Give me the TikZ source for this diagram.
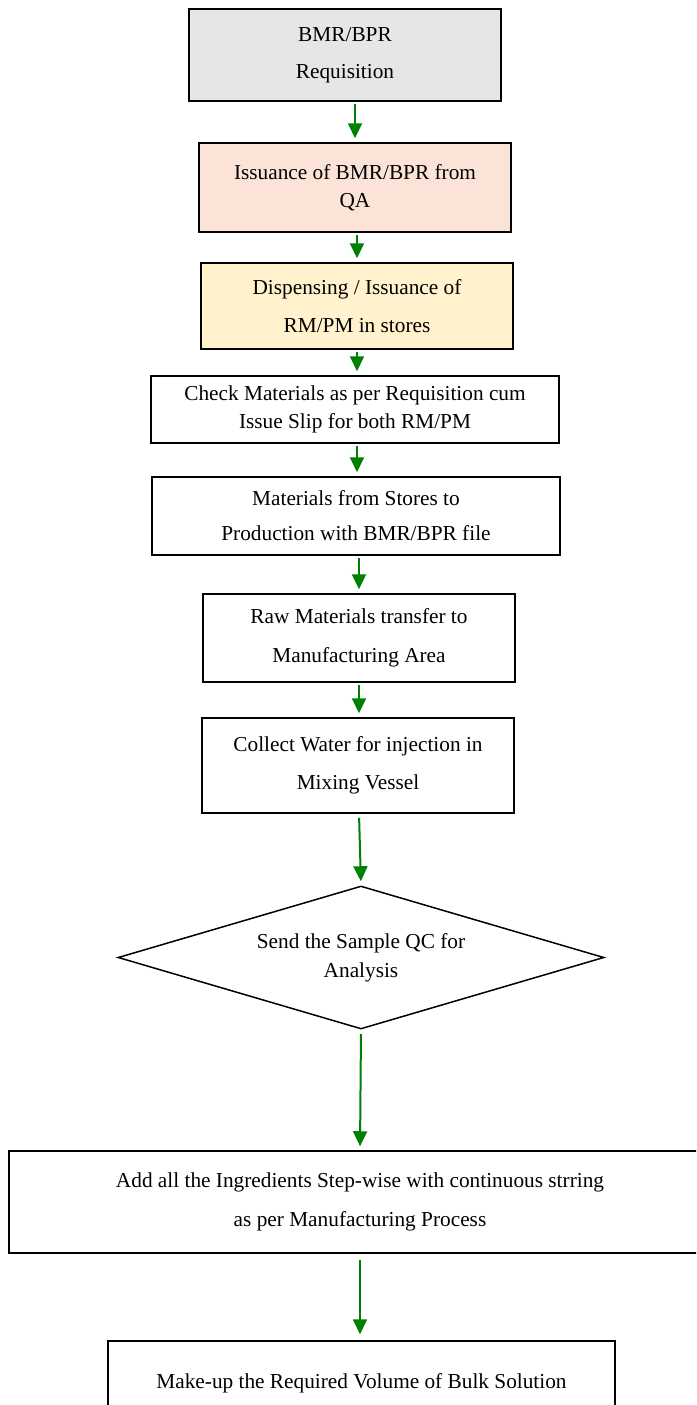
\documentclass[tikz,border=0pt]{standalone}
\usepackage{fontspec}
\setmainfont{Liberation Serif}
\usetikzlibrary{arrows.meta,shapes.geometric,calc}
\definecolor{arrgreen}{RGB}{0,128,0}
\definecolor{boxgray}{RGB}{230,230,230}
\definecolor{boxpeach}{RGB}{251,228,215}
\definecolor{boxcream}{RGB}{255,242,204}
\tikzset{
  box/.style={draw=black, line width=1.5pt, rectangle, inner sep=0pt, align=center},
  fs/.style={font=\fontsize{21.3}{#1}\selectfont},
  arr/.style={draw=arrgreen, line width=2pt, -{Triangle[width=14pt,length=15pt]}, shorten <=2pt, shorten >=4pt},
}
\begin{document}
\begin{tikzpicture}[x=1pt,y=-1pt]
\useasboundingbox (0,0) rectangle (696,1405);
\clip (0,0) rectangle (696,1405);
\node[box, fill=boxgray, fs=37, minimum width=312pt, minimum height=92pt] (b1) at (345,55) {BMR/BPR\\Requisition};
\node[box, fill=boxpeach, fs=28, minimum width=312pt, minimum height=89pt] (b2) at (355,187.5) {Issuance of BMR/BPR from\\QA};
\node[box, fill=boxcream, fs=38, minimum width=312pt, minimum height=86pt] (b3) at (357,306) {Dispensing / Issuance of\\RM/PM in stores};
\node[box, fs=28, minimum width=408pt, minimum height=67pt] (b4) at (355,409.5) {Check Materials as per Requisition cum\\Issue Slip for both RM/PM};
\node[box, fs=35, minimum width=408pt, minimum height=78pt] (b5) at (356,516) {Materials from Stores to\\Production with BMR/BPR file};
\node[box, fs=39, minimum width=312pt, minimum height=88pt] (b6) at (359,638) {Raw Materials transfer to\\Manufacturing Area};
\node[box, fs=38, minimum width=312pt, minimum height=95pt] (b7) at (358,765.5) {Collect Water for injection in\\Mixing Vessel};
\node[draw=black, line width=1.5pt, diamond, aspect=3.4, inner sep=0pt, minimum width=486pt, minimum height=143pt, align=center, fs=29] (d1) at (361,957.5) {Send the Sample QC for\\Analysis};
\node[box, fs=39, minimum width=702pt, minimum height=102pt] (b8) at (360,1202) {Add all the Ingredients Step-wise with continuous strring\\as per Manufacturing Process};
\node[box, fs=39, minimum width=507pt, minimum height=84pt] (b9) at (361.5,1383) {Make-up the Required Volume of Bulk Solution};
\draw[arr] (b1.south -| b2.north) -- (b2.north);
\draw[arr] (b2.south -| b3.north) -- (b3.north);
\draw[arr] (b3.south) -- (b3.south |- b4.north);
\draw[arr] (b4.south -| b3.south) -- (b5.north -| b3.south);
\draw[arr] (b5.south -| b6.north) -- (b6.north);
\draw[arr] (b6.south) -- (b6.south |- b7.north);
\draw[arr, shorten <=4pt] (b7.south -| b6.south) -- (d1.north);
\draw[arr, shorten <=4pt] (d1.south) -- (b8.north -| b8.north);
\draw[arr, shorten <=6pt, shorten >=6pt] (b8.south) -- (b8.south |- b9.north);
\end{tikzpicture}
\end{document}
